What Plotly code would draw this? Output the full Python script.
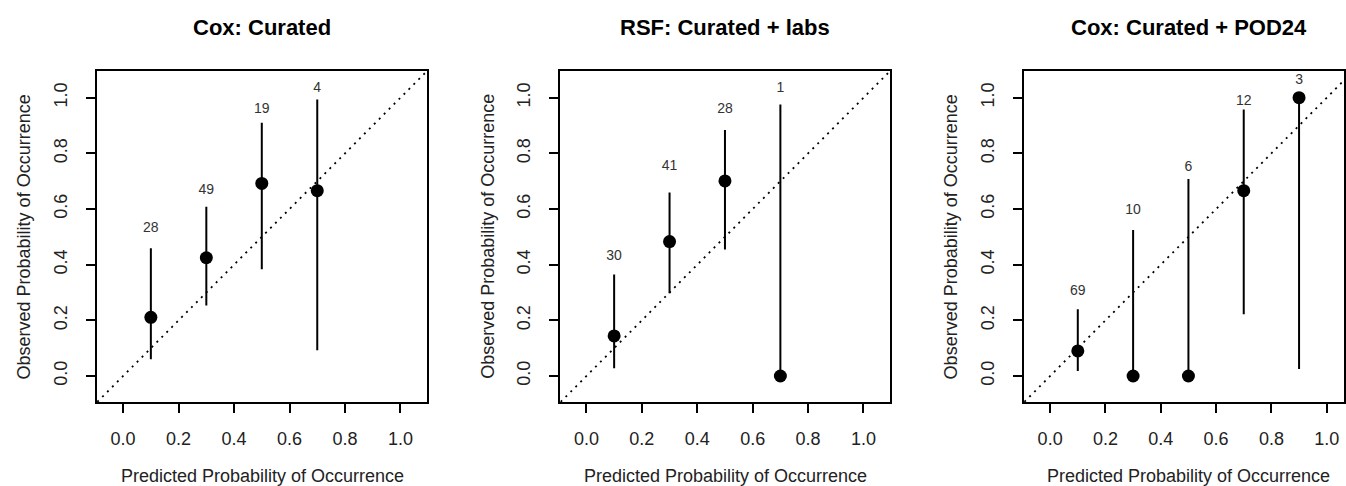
import plotly.graph_objects as go

titles = ["Cox: Curated", "RSF: Curated + labs", "Cox: Curated + POD24"]

# panel 1
p1_x = [0.1, 0.3, 0.5, 0.7]
p1_y = [0.211, 0.425, 0.692, 0.666]
p1_lo = [0.060, 0.253, 0.384, 0.093]
p1_hi = [0.459, 0.608, 0.910, 0.994]
p1_n = ["28", "49", "19", "4"]
p1_ny = [0.531, 0.665, 0.956, 1.034]

# panel 2
p2_x = [0.1, 0.3, 0.5, 0.7]
p2_y = [0.144, 0.483, 0.701, 0.0]
p2_lo = [0.028, 0.297, 0.455, 0.0]
p2_hi = [0.365, 0.659, 0.884, 0.976]
p2_n = ["30", "41", "28", "1"]
p2_ny = [0.431, 0.752, 0.956, 1.034]

# panel 3
p3_x = [0.1, 0.3, 0.5, 0.7, 0.9]
p3_y = [0.090, 0.0, 0.0, 0.666, 1.0]
p3_lo = [0.018, 0.0, 0.0, 0.222, 0.025]
p3_hi = [0.240, 0.525, 0.708, 0.958, 1.0]
p3_n = ["69", "10", "6", "12", "3"]
p3_ny = [0.305, 0.594, 0.750, 0.988, 1.063]

tick_vals = [0.0, 0.2, 0.4, 0.6, 0.8, 1.0]
tick_text = ["0.0", "0.2", "0.4", "0.6", "0.8", "1.0"]
diag = [-0.2, 1.2]

W, H = 1346, 486
FONT = "Liberation Sans, Arial, Helvetica, sans-serif"

panels = [
    (p1_x, p1_y, p1_lo, p1_hi, p1_n, p1_ny),
    (p2_x, p2_y, p2_lo, p2_hi, p2_n, p2_ny),
    (p3_x, p3_y, p3_lo, p3_hi, p3_n, p3_ny),
]

# pixel geometry of the plot boxes
box_left = [97, 561, 1025.3]
box_right = [428, 891.7, 1346]
xranges = [[-0.0947, 1.097], [-0.0948, 1.097], [-0.0953, 1.0625]]
box_top, box_bot = 71, 402
yrange = [-0.0934, 1.096]

fig = go.Figure()
for i, (px, py, lo, hi, ns, ny) in enumerate(panels):
    k = "" if i == 0 else str(i + 1)
    xa, ya = "x" + k, "y" + k
    fig.add_trace(go.Scatter(
        x=diag, y=diag, mode="lines", xaxis=xa, yaxis=ya,
        line=dict(color="black", width=1.8, dash="2px,5px"),
        hoverinfo="skip", showlegend=False))
    fig.add_trace(go.Scatter(
        x=px, y=py, mode="markers", xaxis=xa, yaxis=ya,
        marker=dict(color="black", size=13, symbol="circle"),
        error_y=dict(type="data", symmetric=False,
                     array=[h - v for h, v in zip(hi, py)],
                     arrayminus=[v - l for v, l in zip(py, lo)],
                     color="black", thickness=2, width=0),
        showlegend=False))
    fig.add_trace(go.Scatter(
        x=px, y=ny, mode="text", text=ns, xaxis=xa, yaxis=ya,
        textfont=dict(family=FONT, size=14, color="#333333"),
        textposition="middle center", showlegend=False))

    axcommon = dict(
        showgrid=False, zeroline=False, showline=True, mirror=True,
        linecolor="black", linewidth=2, ticks="outside", ticklen=9,
        tickwidth=1.5, tickcolor="black", tickvals=tick_vals, ticktext=tick_text,
        tickfont=dict(family=FONT, size=18, color="#222222"),
        ticklabelstandoff=10,
    )
    fig.update_layout({
        "xaxis" + k: dict(axcommon, domain=[box_left[i] / W, min(box_right[i] / W, 1.0)],
                          range=xranges[i], anchor=ya),
        "yaxis" + k: dict(axcommon, domain=[1 - box_bot / H, 1 - box_top / H],
                          range=yrange, anchor=xa, tickangle=-90, ticklabelstandoff=12),
    })
    cx = (box_left[i] + (box_right[i] if i < 2 else 1356)) / 2
    fig.add_annotation(text="<b>" + titles[i] + "</b>", x=cx / W, y=1 - 28 / H,
                       xref="paper", yref="paper", showarrow=False,
                       font=dict(family=FONT, size=22, color="black"),
                       xanchor="center", yanchor="middle")
    fig.add_annotation(text="Predicted Probability of Occurrence", x=cx / W,
                       y=1 - 476 / H, xref="paper", yref="paper", showarrow=False,
                       font=dict(family=FONT, size=18, color="#222222"),
                       xanchor="center", yanchor="middle")
    fig.add_annotation(text="Observed Probability of Occurrence",
                       x=(box_left[i] - 73) / W, y=1 - ((box_top + box_bot) / 2) / H,
                       xref="paper", yref="paper", showarrow=False, textangle=-90,
                       font=dict(family=FONT, size=18, color="#222222"),
                       xanchor="center", yanchor="middle")

fig.update_layout(width=W, height=H, margin=dict(l=0, r=0, t=0, b=0),
                  paper_bgcolor="white", plot_bgcolor="white", showlegend=False)
fig.write_html("out.html", config={"displayModeBar": False},
               post_script="document.body.style.margin='0';document.body.style.overflow='hidden';")
